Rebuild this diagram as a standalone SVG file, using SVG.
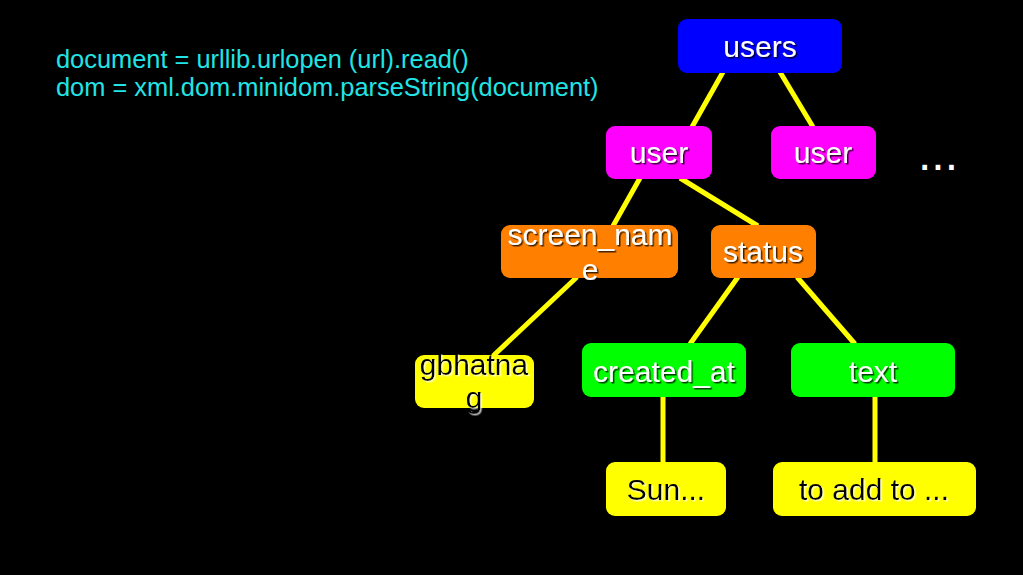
<svg xmlns="http://www.w3.org/2000/svg" width="1023" height="575" viewBox="0 0 1023 575">
<defs>
<style>
.bg{fill:#000}
.code{font-family:"Liberation Sans",Arial,sans-serif;font-size:25.4px;fill:#22e4e4}
.lbl{font-family:"Liberation Sans",Arial,sans-serif;font-size:30px;text-anchor:middle}
.w{fill:#fff;filter:url(#sd)}
.k{fill:#000;filter:url(#sl)}
.box{stroke:none}
.conn line{stroke:#ffff00;stroke-width:5;stroke-linecap:butt}
</style>
<filter id="sd" x="-10%" y="-20%" width="130%" height="150%">
<feDropShadow dx="1.5" dy="1.5" stdDeviation="0.6" flood-color="#000" flood-opacity="0.75"/>
</filter>
<filter id="sl" x="-10%" y="-20%" width="130%" height="150%">
<feDropShadow dx="1.5" dy="1.5" stdDeviation="0.6" flood-color="#fff" flood-opacity="0.7"/>
</filter>
</defs>
<rect class="bg" x="0" y="0" width="1023" height="575"/>
<g id="code">
<text class="code" x="56" y="68">document = urllib.urlopen (url).read()</text>
<text class="code" x="56" y="96">dom = xml.dom.minidom.parseString(document)</text>
</g>
<g class="conn" id="connectors">
<line x1="723" y1="72" x2="692" y2="127"/>
<line x1="780" y1="72" x2="813" y2="127"/>
<line x1="640" y1="178" x2="613" y2="226"/>
<line x1="680" y1="178" x2="758" y2="226"/>
<line x1="577" y1="277" x2="493" y2="356"/>
<line x1="738" y1="277" x2="690" y2="344"/>
<line x1="797" y1="277" x2="855" y2="344"/>
<line x1="663" y1="396" x2="663" y2="463"/>
<line x1="875" y1="396" x2="875" y2="463"/>
</g>
<g id="n-users">
<rect class="box" x="678" y="19" width="164" height="54" rx="9" fill="#0000ff"/>
<text class="lbl w" x="760" y="57">users</text>
</g>
<g id="n-user1">
<rect class="box" x="606" y="126" width="106" height="53" rx="9" fill="#ff00ff"/>
<text class="lbl w" x="659" y="163">user</text>
</g>
<g id="n-user2">
<rect class="box" x="771" y="126" width="105" height="53" rx="9" fill="#ff00ff"/>
<text class="lbl w" x="823" y="163">user</text>
</g>
<g id="n-more">
<text x="918" y="170" font-family="Liberation Sans, Arial, sans-serif" font-size="48" fill="#fff">...</text>
</g>
<g id="n-screen_name">
<rect class="box" x="501" y="225" width="177" height="53" rx="9" fill="#ff8000"/>
<text class="lbl w" x="590" y="245">screen_nam</text>
<text class="lbl w" x="590" y="280">e</text>
</g>
<g id="n-status">
<rect class="box" x="711" y="225" width="105" height="53" rx="9" fill="#ff8000"/>
<text class="lbl w" x="763" y="262">status</text>
</g>
<g id="n-gbhatnag">
<rect class="box" x="415" y="355" width="119" height="53" rx="9" fill="#ffff00"/>
<text class="lbl k" x="474" y="375">gbhatna</text>
<text class="lbl k" x="474" y="408">g</text>
</g>
<g id="n-created_at">
<rect class="box" x="582" y="343" width="164" height="54" rx="9" fill="#00ff00"/>
<text class="lbl w" x="664" y="382">created_at</text>
</g>
<g id="n-text">
<rect class="box" x="791" y="343" width="164" height="54" rx="9" fill="#00ff00"/>
<text class="lbl w" x="873" y="382">text</text>
</g>
<g id="n-sun">
<rect class="box" x="606" y="462" width="120" height="54" rx="9" fill="#ffff00"/>
<text class="lbl k" x="666" y="500">Sun...</text>
</g>
<g id="n-toadd">
<rect class="box" x="773" y="462" width="203" height="54" rx="9" fill="#ffff00"/>
<text class="lbl k" x="874" y="500">to add to ...</text>
</g>
</svg>
